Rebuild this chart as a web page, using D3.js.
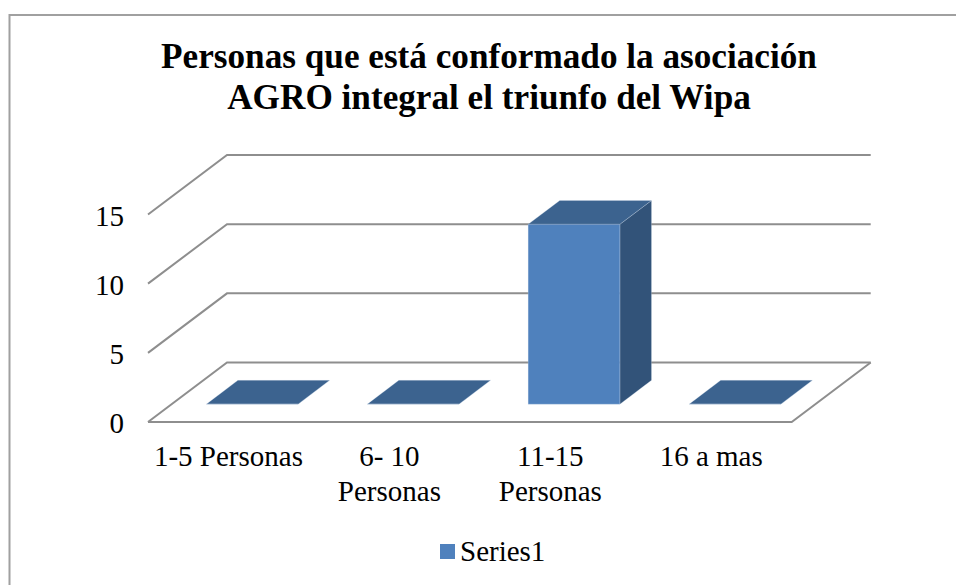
<!DOCTYPE html>
<html>
<head>
<meta charset="utf-8">
<script src="https://cdn.jsdelivr.net/npm/d3@7"></script>
<style>
    html, body { margin: 0; padding: 0; background: #fff; }
    svg { display: block; }
    text { font-family: "Liberation Serif", serif; fill: #000; }
</style>
</head>
<body>
<div id="chart"></div>
<script>
// Chart data
const categories = ['1-5 Personas', '6- 10 Personas', '11-15 Personas', '16 a mas'];
const categoryLines = [['1-5 Personas'], ['6- 10', 'Personas'], ['11-15', 'Personas'], ['16 a mas']];
const values = [0, 0, 13, 0];
const yTicks = [0, 5, 10, 15];
const seriesName = 'Series1';
const titleLines = ['Personas que está conformado la asociación', 'AGRO integral el triunfo del Wipa'];

const width = 956, height = 585;
const labelSize = 29;

const svg = d3.select('#chart').append('svg')
    .attr('width', width)
    .attr('height', height);

// Scales, front plane of the floor
const x = d3.scaleBand()
    .domain(categories)
    .range([148, 791.7])
    .paddingInner(0.43)
    .paddingOuter(0.215);
const y = d3.scaleLinear().domain([0, 15]).range([422, 214.5]);

// Depth goes 0 (front) to 1 (back wall), oblique projection
const depthX = d3.scaleLinear().domain([0, 1]).range([0, 79]);
const depthY = d3.scaleLinear().domain([0, 1]).range([0, -59.5]);
const project = (px, value, z) => [px + depthX(z), y(value) + depthY(z)];
const line = d3.line();

// Chart frame
svg.append('path')
    .attr('d', `M9.5,${height}V15H${width}`)
    .attr('fill', 'none')
    .attr('stroke', '#a0a0a0')
    .attr('stroke-width', 2);

// Title
svg.append('g').selectAll('text')
    .data(titleLines)
    .join('text')
    .attr('x', 489)
    .attr('y', (d, i) => 68 + i * 40.5)
    .attr('text-anchor', 'middle')
    .attr('font-size', 35.2)
    .attr('font-weight', 'bold')
    .text(d => d);

// Gridlines, running up the side wall then along the back wall
const [x0, x1] = x.range();
const grid = svg.append('g')
    .attr('fill', 'none')
    .attr('stroke', '#8e8e8e')
    .attr('stroke-width', 2);
grid.selectAll('path.grid')
    .data(yTicks)
    .join('path')
    .attr('class', 'grid')
    .attr('d', d => line([project(x0, d, 0), project(x0, d, 1), project(x1, d, 1)]));

// Floor front and right edges
grid.append('path')
    .attr('d', line([project(x0, 0, 0), project(x1, 0, 0), project(x1, 0, 1)]));

// Bars: side face, top face, front face
const bars = svg.append('g')
    .selectAll('g')
    .data(values)
    .join('g')
    .attr('stroke', '#dbe5f1')
    .attr('stroke-opacity', 0.3)
    .attr('stroke-width', 0.8)
    .attr('stroke-linejoin', 'round');

const zFront = 0.3, zBack = 0.7;
const barLeft = (d, i) => x(categories[i]);
const barRight = (d, i) => x(categories[i]) + x.bandwidth();

bars.append('path')
    .attr('fill', '#325379')
    .attr('d', (d, i) => line([
        project(barRight(d, i), 0, zFront), project(barRight(d, i), 0, zBack),
        project(barRight(d, i), d, zBack), project(barRight(d, i), d, zFront)
    ]) + 'Z');

bars.append('path')
    .attr('fill', '#3c638f')
    .attr('d', (d, i) => line([
        project(barLeft(d, i), d, zFront), project(barLeft(d, i), d, zBack),
        project(barRight(d, i), d, zBack), project(barRight(d, i), d, zFront)
    ]) + 'Z');

bars.append('path')
    .attr('fill', '#4f81bd')
    .attr('d', (d, i) => line([
        project(barLeft(d, i), 0, zFront), project(barLeft(d, i), d, zFront),
        project(barRight(d, i), d, zFront), project(barRight(d, i), 0, zFront)
    ]) + 'Z');

// Value axis labels
const yAxis = svg.append('g')
    .attr('transform', `translate(${x0 - 24},0)`)
    .call(d3.axisLeft(y).tickValues(yTicks).tickSize(0).tickPadding(0));
yAxis.select('.domain').remove();
yAxis.selectAll('text')
    .attr('font-size', labelSize)
    .attr('font-family', '"Liberation Serif", serif')
    .attr('fill', '#000')
    .attr('dy', '0.37em');

// Category labels
svg.append('g').selectAll('text')
    .data(categoryLines)
    .join('text')
    .attr('text-anchor', 'middle')
    .attr('font-size', labelSize)
    .each(function (lines, i) {
        const cx = x(categories[i]) + x.bandwidth() / 2;
        d3.select(this).selectAll('tspan')
            .data(lines)
            .join('tspan')
            .attr('x', cx)
            .attr('y', (d, j) => 466 + j * 35)
            .text(d => d);
    });

// Legend
const legend = svg.append('g');
legend.append('rect')
    .attr('x', 440).attr('y', 544)
    .attr('width', 15).attr('height', 15)
    .attr('fill', '#4f81bd');
legend.append('text')
    .attr('x', 460).attr('y', 561)
    .attr('font-size', labelSize)
    .text(seriesName);
</script>
</body>
</html>
